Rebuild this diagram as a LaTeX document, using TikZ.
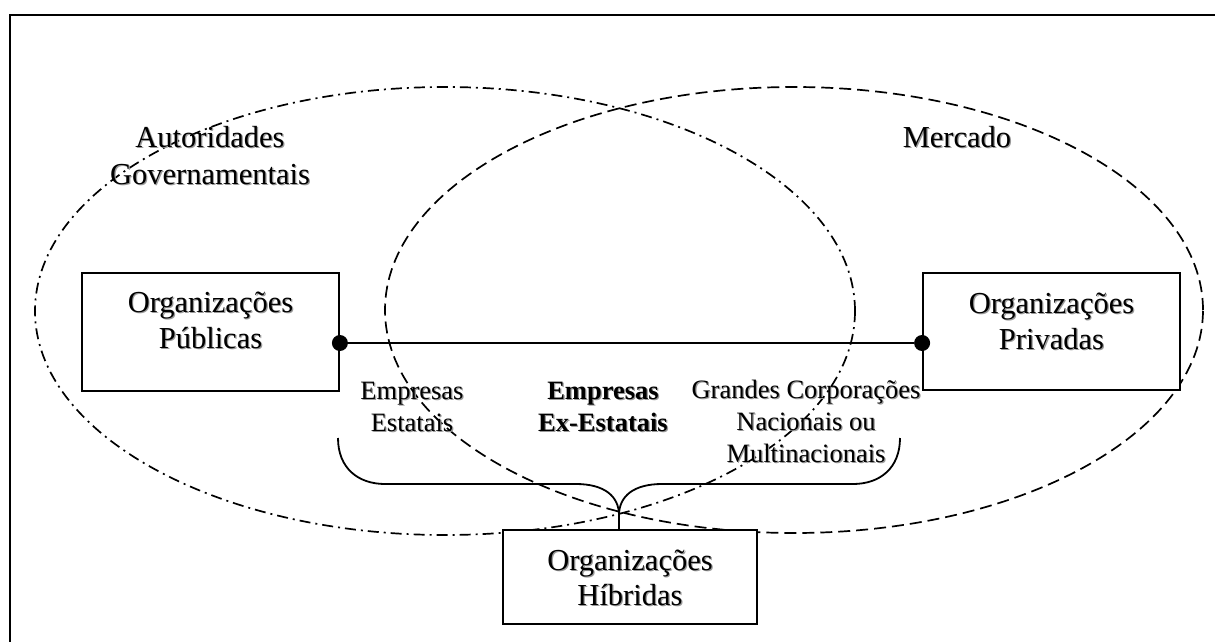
\documentclass[tikz,border=0pt]{standalone}
\usepackage{fontspec}
\setmainfont{Liberation Serif}
\usetikzlibrary{calc}
% text with a soft grey drop shadow
\newcommand\shd[1]{\makebox[0pt][l]{\kern1.2pt\raisebox{-1.2pt}{\textcolor{black!40}{#1}}}#1}
\begin{document}
\begin{tikzpicture}[x=1pt,y=-1pt,
  frame/.style={line width=2pt},
  govt/.style={line width=1.7pt, dash pattern=on 11pt off 5pt on 2pt off 5pt},
  mkt/.style={line width=1.7pt, dash pattern=on 12pt off 6pt},
  orgbox/.style={draw, fill=white, line width=1.8pt, inner sep=0pt},
  bigtext/.style={font=\fontsize{30.5}{36}\selectfont, align=center, anchor=base, inner sep=0pt},
  smalltext/.style={font=\fontsize{26.5}{32}\selectfont, align=center, anchor=base, inner sep=0pt},
  dot/.style={circle, fill, inner sep=0pt, minimum size=16pt},
  link/.style={line width=1.8pt},
  brace/.style={line width=1.8pt}]
\useasboundingbox (0,0) rectangle (1215,642);

% outer frame (runs past the right and bottom edges)
\draw[frame] (10,15) rectangle (1240,670);

% the two overlapping spheres
\draw[govt] (445,311) ellipse [x radius=410pt, y radius=224pt];
\draw[mkt] (794,310) ellipse [x radius=409pt, y radius=223pt];

% (base anchor of a multi-line node sits on its last line)
\node[bigtext, font=\fontsize{30.5}{37}\selectfont] (govtlbl) at (210,184) {\shd{Autoridades}\\\shd{Governamentais}};
\node[bigtext] (mktlbl) at (957,147) {\shd{Mercado}};

% organisation boxes
\node[orgbox, minimum width=257pt, minimum height=118pt] (pub) at (210.5,332) {};
\node[orgbox, minimum width=257pt, minimum height=117pt] (priv) at (1051.5,331.5) {};
\node[orgbox, minimum width=254pt, minimum height=94pt] (hib) at (630,577) {};

\node[bigtext] (pubtxt) at (210.5,348) {\shd{Organizações}\\\shd{Públicas}};
\node[bigtext] (privtxt) at (1051.5,349) {\shd{Organizações}\\\shd{Privadas}};
\node[bigtext, font=\fontsize{30.5}{35}\selectfont] (hibtxt) at (630,605) {\shd{Organizações}\\\shd{Híbridas}};

% public--private axis
\node[dot] (dpub) at ($(pub.east)+(0,11)$) {};
\node[dot] (dpriv) at (priv.west |- dpub) {};
\draw[link] (dpub) -- (dpriv);

% kinds of companies along the axis
\node[smalltext] (estatais) at (412,431) {\shd{Empresas}\\\shd{Estatais}};
\node[smalltext, font=\fontsize{26.5}{32}\selectfont\bfseries] (exestatais) at (603,431) {\shd{Empresas}\\\shd{Ex-Estatais}};
\node[smalltext] (grandes) at (806,462) {\shd{Grandes Corporações}\\\shd{Nacionais ou}\\\shd{Multinacionais}};

% brace gathering them into the hybrid box
\coordinate (bl) at (338,438);
\coordinate (br) at (900,438);
\coordinate (tip) at ($(hib.north)+(-11,0)$);
\draw[brace] (bl) .. controls (338,468) and (358,484) .. (385,484) -- (576,484)
  .. controls (604,484) and (619,496) .. ($(tip)+(0,-14)$) -- (tip);
\draw[brace] ($(tip)+(0,-14)$) .. controls (619,496) and (634,484) .. (662,484) -- (853,484)
  .. controls (880,484) and (900,468) .. (br);
\end{tikzpicture}
\end{document}
